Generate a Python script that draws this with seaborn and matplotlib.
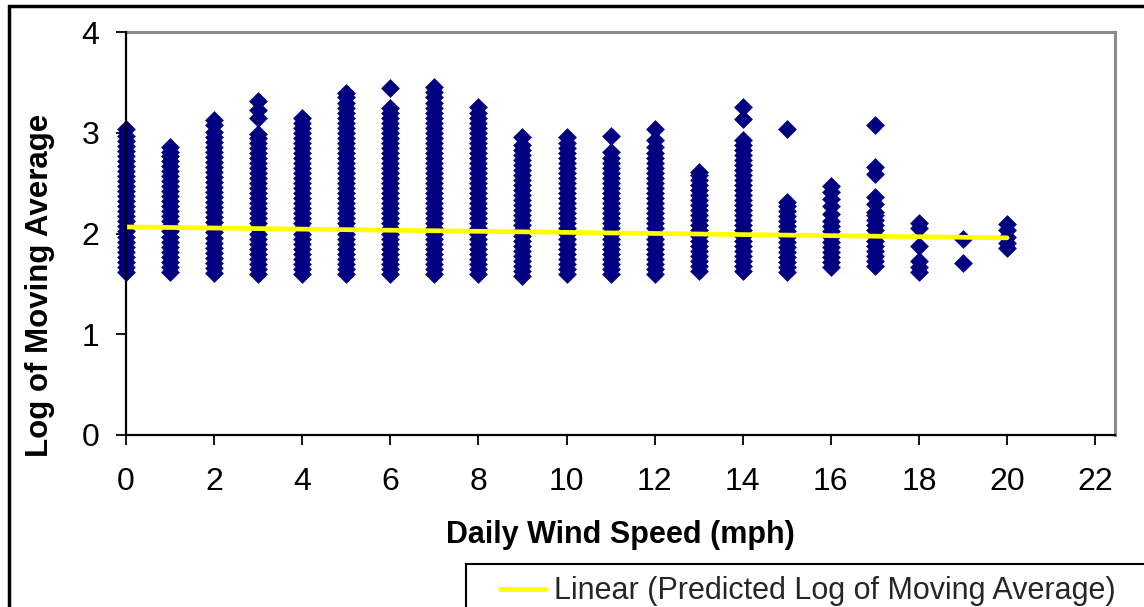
import matplotlib
matplotlib.use("Agg")
import matplotlib.pyplot as plt
import seaborn as sns
import pandas as pd
from matplotlib.lines import Line2D
from matplotlib.patches import Rectangle
from matplotlib.legend_handler import HandlerLine2D

# ---------------- data ----------------
wind_speeds = [0, 1, 2, 3, 4, 5, 6, 7, 8, 9, 10, 11, 12, 13, 14, 15, 16, 17, 18, 19, 20]

log_ma_ws00 = [1.62, 1.67, 1.72, 1.77, 1.82, 1.87, 1.92, 1.97, 2.02, 2.07, 2.12, 2.17, 2.22, 2.27, 2.32,
               2.37, 2.42, 2.47, 2.52, 2.57, 2.62, 2.67, 2.72, 2.77, 2.82, 2.87, 2.92, 2.97, 3.04]
log_ma_ws01 = [1.62, 1.67, 1.72, 1.77, 1.82, 1.87, 1.92, 1.97, 2.02, 2.07, 2.12, 2.17, 2.22, 2.27, 2.32,
               2.37, 2.42, 2.47, 2.52, 2.57, 2.62, 2.67, 2.72, 2.77, 2.81, 2.86]
log_ma_ws02 = [1.61, 1.66, 1.71, 1.76, 1.81, 1.86, 1.91, 1.96, 2.01, 2.06, 2.11, 2.16, 2.21, 2.26, 2.31,
               2.36, 2.41, 2.46, 2.51, 2.56, 2.61, 2.66, 2.71, 2.76, 2.81, 2.86, 2.91, 2.96, 3.01, 3.08, 3.13]
log_ma_ws03 = [1.60, 1.65, 1.70, 1.75, 1.80, 1.85, 1.90, 1.95, 2.00, 2.05, 2.10, 2.15, 2.20, 2.25, 2.30,
               2.35, 2.40, 2.45, 2.50, 2.55, 2.60, 2.65, 2.70, 2.75, 2.80, 2.85, 2.90, 2.95, 2.99, 3.15,
               3.23, 3.32]
log_ma_ws04 = [1.60, 1.65, 1.70, 1.75, 1.80, 1.85, 1.90, 1.95, 2.00, 2.05, 2.10, 2.15, 2.20, 2.25, 2.30,
               2.35, 2.40, 2.45, 2.50, 2.55, 2.60, 2.65, 2.70, 2.75, 2.80, 2.85, 2.90, 2.95, 3.00, 3.05,
               3.10, 3.15]
log_ma_ws05 = [1.60, 1.65, 1.70, 1.75, 1.80, 1.85, 1.90, 1.95, 2.00, 2.05, 2.10, 2.15, 2.20, 2.25, 2.30,
               2.35, 2.40, 2.45, 2.50, 2.55, 2.60, 2.65, 2.70, 2.75, 2.80, 2.85, 2.90, 2.95, 3.00, 3.05,
               3.10, 3.15, 3.20, 3.25, 3.30, 3.35, 3.39]
log_ma_ws06 = [1.60, 1.65, 1.70, 1.75, 1.80, 1.85, 1.90, 1.95, 2.00, 2.05, 2.10, 2.15, 2.20, 2.25, 2.30,
               2.35, 2.40, 2.45, 2.50, 2.55, 2.60, 2.65, 2.70, 2.75, 2.80, 2.85, 2.90, 2.95, 3.00, 3.05,
               3.10, 3.15, 3.20, 3.25, 3.44]
log_ma_ws07 = [1.60, 1.65, 1.70, 1.75, 1.80, 1.85, 1.90, 1.95, 2.00, 2.05, 2.10, 2.15, 2.20, 2.25, 2.30,
               2.35, 2.40, 2.45, 2.50, 2.55, 2.60, 2.65, 2.70, 2.75, 2.80, 2.85, 2.90, 2.95, 3.00, 3.05,
               3.10, 3.15, 3.20, 3.25, 3.30, 3.35, 3.40, 3.45]
log_ma_ws08 = [1.60, 1.65, 1.70, 1.75, 1.80, 1.85, 1.90, 1.95, 2.00, 2.05, 2.10, 2.15, 2.20, 2.25, 2.30,
               2.35, 2.40, 2.45, 2.50, 2.55, 2.60, 2.65, 2.70, 2.75, 2.80, 2.85, 2.90, 2.95, 3.00, 3.05,
               3.10, 3.15, 3.20, 3.26]
log_ma_ws09 = [1.58, 1.63, 1.68, 1.73, 1.78, 1.83, 1.88, 1.93, 1.98, 2.03, 2.08, 2.13, 2.18, 2.23, 2.28,
               2.33, 2.38, 2.43, 2.48, 2.53, 2.58, 2.63, 2.68, 2.73, 2.78, 2.83, 2.88, 2.96]
log_ma_ws10 = [1.60, 1.65, 1.70, 1.75, 1.80, 1.85, 1.90, 1.95, 2.00, 2.05, 2.10, 2.15, 2.20, 2.25, 2.30,
               2.35, 2.40, 2.45, 2.50, 2.55, 2.60, 2.65, 2.70, 2.75, 2.80, 2.85, 2.90, 2.96]
log_ma_ws11 = [1.60, 1.65, 1.70, 1.75, 1.80, 1.85, 1.90, 1.95, 2.00, 2.05, 2.10, 2.15, 2.20, 2.25, 2.30,
               2.35, 2.40, 2.45, 2.50, 2.55, 2.60, 2.65, 2.70, 2.75, 2.81, 2.97]
log_ma_ws12 = [1.60, 1.65, 1.70, 1.75, 1.80, 1.85, 1.90, 1.95, 2.00, 2.05, 2.10, 2.15, 2.20, 2.25, 2.30,
               2.35, 2.40, 2.45, 2.50, 2.55, 2.60, 2.65, 2.70, 2.75, 2.80, 2.86, 2.93, 3.04]
log_ma_ws13 = [1.63, 1.68, 1.73, 1.78, 1.83, 1.88, 1.93, 1.98, 2.03, 2.08, 2.13, 2.18, 2.23, 2.28, 2.33,
               2.38, 2.43, 2.48, 2.53, 2.58, 2.61]
log_ma_ws14 = [1.63, 1.68, 1.73, 1.78, 1.83, 1.88, 1.93, 1.98, 2.03, 2.08, 2.13, 2.18, 2.23, 2.28, 2.33,
               2.38, 2.43, 2.48, 2.53, 2.58, 2.63, 2.68, 2.73, 2.78, 2.83, 2.88, 2.93, 3.14, 3.26]
log_ma_ws15 = [1.62, 1.67, 1.72, 1.77, 1.82, 1.87, 1.92, 1.97, 2.02, 2.07, 2.12, 2.17, 2.22, 2.27, 2.31,
               3.04]
log_ma_ws16 = [1.67, 1.72, 1.77, 1.82, 1.87, 1.92, 1.97, 2.02, 2.07, 2.12, 2.19, 2.27, 2.34, 2.41, 2.47]
log_ma_ws17 = [1.68, 1.73, 1.78, 1.83, 1.88, 1.93, 1.98, 2.03, 2.08, 2.13, 2.18, 2.21, 2.29, 2.36, 2.59,
               2.66, 3.08]
log_ma_ws18 = [1.62, 1.67, 1.73, 1.88, 2.05, 2.10]
log_ma_ws19 = [1.71, 1.95]
log_ma_ws20 = [1.86, 1.91, 1.97, 2.03, 2.09]

trend_x = [0, 20]
trend_y = [2.065, 1.957]

x_ticks = [0, 2, 4, 6, 8, 10, 12, 14, 16, 18, 20, 22]
y_ticks = [0, 1, 2, 3, 4]
x_label = "Daily Wind Speed (mph)"
y_label = "Log of Moving Average"
legend_label = "Linear (Predicted Log of Moving Average)"

columns = [log_ma_ws00, log_ma_ws01, log_ma_ws02, log_ma_ws03, log_ma_ws04, log_ma_ws05, log_ma_ws06,
           log_ma_ws07, log_ma_ws08, log_ma_ws09, log_ma_ws10, log_ma_ws11, log_ma_ws12, log_ma_ws13,
           log_ma_ws14, log_ma_ws15, log_ma_ws16, log_ma_ws17, log_ma_ws18, log_ma_ws19, log_ma_ws20]

df = pd.DataFrame({
    "wind": [w for w, col in zip(wind_speeds, columns) for _ in col],
    "logma": [v for col in columns for v in col],
})
trend_df = pd.DataFrame({"wind": trend_x, "logma": trend_y})

# ---------------- figure ----------------
sns.set_style("white")
plt.rcParams["font.family"] = ["Liberation Sans", "DejaVu Sans"]

W, H = 1144, 607
fig = plt.figure(figsize=(W / 100, H / 100), dpi=100)
fig.patch.set_facecolor("white")
L, R, T, B = 126, 1115, 32, 435
ax = fig.add_axes([L / W, 1 - B / H, (R - L) / W, (B - T) / H])

sns.scatterplot(data=df, x="wind", y="logma", marker="D", color="#000080", s=92,
                linewidth=0, ax=ax, legend=False, zorder=2, clip_on=False)
sns.lineplot(data=trend_df, x="wind", y="logma", color="#FFFF00", linewidth=3.4,
             ax=ax, legend=False, zorder=3)

ax.set_xlim(0, 22.45)
ax.set_ylim(0, 4)
ax.set_xticks(x_ticks)
ax.set_yticks(y_ticks)
ax.tick_params(axis="both", direction="out", length=7.2, width=1.3, color="black",
               labelsize=23, labelcolor="black", bottom=True, left=True)
ax.tick_params(axis="x", pad=16)
ax.tick_params(axis="y", pad=12)
for s in ["left", "bottom"]:
    ax.spines[s].set_color("black")
    ax.spines[s].set_linewidth(1.6)
    ax.spines[s].set_zorder(4)
for s in ["top", "right"]:
    ax.spines[s].set_color("#8c8c8c")
    ax.spines[s].set_linewidth(2.2)

ax.set_xlabel(x_label, fontsize=22, fontweight="bold", color="black")
ax.set_ylabel(y_label, fontsize=22.5, fontweight="bold", color="black")
ax.xaxis.set_label_coords(0.5, (B - 535) / (B - T))
ax.xaxis.label.set_va("center")
ax.yaxis.set_label_coords((40 - L) / (R - L), (B - 285) / (B - T))
ax.yaxis.label.set_va("center")

# legend (cut off by the figure edge, as in the reference)
fs = 22
fs_px = fs * 100 / 72
box_left = 466
pad_px = 0.4 * fs_px
handle = Line2D([], [], color="#FFFF00", linewidth=3.4)
leg = fig.legend([handle], [legend_label], loc="upper left",
                 bbox_to_anchor=(box_left / W, 1 - 564 / H - 0.1, 0.6, 0.1), mode="expand",
                 borderaxespad=0, fontsize=fs, frameon=True, fancybox=False, framealpha=1,
                 edgecolor="black", borderpad=0.4,
                 handlelength=(546 - box_left - pad_px) / fs_px,
                 handletextpad=8 / fs_px,
                 handler_map={handle: HandlerLine2D(xpad=(500 - box_left - pad_px) / fs_px)})
leg.get_frame().set_linewidth(1.5)

# chart-area border
fig.add_artist(Rectangle((8.5 / W, -0.5), 2, 1 - 5.5 / H + 0.5, transform=fig.transFigure,
                         fill=False, edgecolor="black", linewidth=2.5))

fig.savefig("out.png", dpi=100, facecolor="white")
